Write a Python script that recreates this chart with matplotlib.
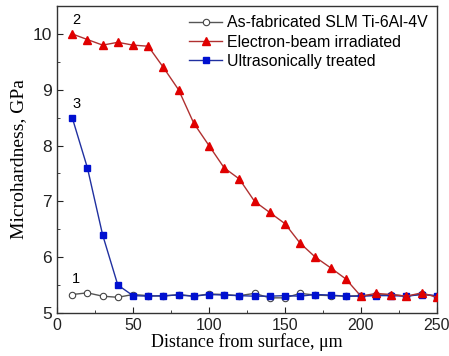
import matplotlib
matplotlib.use("Agg")
import matplotlib.pyplot as plt
from matplotlib.ticker import MultipleLocator

x_asfab = [10, 20, 30, 40, 50, 60, 70, 80, 90, 100, 110, 120, 130, 140, 150, 160, 170, 180, 190, 200, 210, 220, 230, 240, 250]
y_asfab = [5.33, 5.36, 5.30, 5.28, 5.33, 5.31, 5.30, 5.33, 5.30, 5.34, 5.33, 5.31, 5.35, 5.27, 5.27, 5.35, 5.32, 5.31, 5.30, 5.31, 5.32, 5.33, 5.30, 5.34, 5.30]

x_eb = [10, 20, 30, 40, 50, 60, 70, 80, 90, 100, 110, 120, 130, 140, 150, 160, 170, 180, 190, 200, 210, 220, 230, 240, 250]
y_eb = [10.0, 9.9, 9.8, 9.85, 9.8, 9.78, 9.4, 9.0, 8.4, 8.0, 7.6, 7.4, 7.0, 6.8, 6.6, 6.25, 6.0, 5.81, 5.61, 5.3, 5.35, 5.33, 5.30, 5.36, 5.28]

x_us = [10, 20, 30, 40, 50, 60, 70, 80, 90, 100, 110, 120, 130, 140, 150, 160, 170, 180, 190, 200, 210, 220, 230, 240, 250]
y_us = [8.5, 7.6, 6.4, 5.5, 5.31, 5.30, 5.31, 5.32, 5.30, 5.33, 5.32, 5.31, 5.30, 5.30, 5.31, 5.30, 5.33, 5.32, 5.30, 5.30, 5.31, 5.31, 5.30, 5.33, 5.31]

labels = ["As-fabricated SLM Ti-6Al-4V", "Electron-beam irradiated", "Ultrasonically treated"]
curve_ids = ["1", "2", "3"]

fig = plt.figure(figsize=(4.49, 3.56), dpi=100)
ax = fig.add_axes([0.127, 0.121, 0.846, 0.862])

ax.plot(x_asfab, y_asfab, color="#555555", lw=1.0, marker="o", ms=4.6,
        mfc="white", mec="#444444", mew=0.8, label=labels[0], zorder=2)
ax.plot(x_eb, y_eb, color="#b03030", lw=1.0, marker="^", ms=5.6,
        mfc="#e00000", mec="#e00000", label=labels[1], zorder=3)
ax.plot(x_us, y_us, color="#2030a0", lw=1.0, marker="s", ms=4.4,
        mfc="#0010d0", mec="#0010d0", label=labels[2], zorder=2.5)

ax.set_xlim(0, 250)
ax.set_ylim(5, 10.5)
ax.xaxis.set_major_locator(MultipleLocator(50))
ax.xaxis.set_minor_locator(MultipleLocator(25))
ax.yaxis.set_major_locator(MultipleLocator(1))
ax.yaxis.set_minor_locator(MultipleLocator(0.5))
ax.tick_params(which="both", direction="in", top=False, right=False,
               colors="#222222")
ax.tick_params(axis="x", labelsize=11.5)
ax.tick_params(axis="y", labelsize=12.5)
ax.tick_params(which="major", length=4)
ax.tick_params(which="minor", length=2.5)
for lab in ax.get_xticklabels() + ax.get_yticklabels():
    lab.set_fontfamily("Liberation Sans")
for s in ax.spines.values():
    s.set_color("#333333")
    s.set_linewidth(1.0)

ax.set_xlabel("Distance from surface, \u03bcm", family="Liberation Serif",
              fontsize=13, labelpad=0)
ax.set_ylabel("Microhardness, GPa", family="Liberation Serif",
              fontsize=14, labelpad=4)

ann_xy = [(10, 5.48), (10, 10.12), (10, 8.62)]
for t, (xx, yy) in zip(curve_ids, ann_xy):
    ax.text(xx, yy, t, family="Liberation Sans", fontsize=10.5, ha="left", va="bottom")

leg = fig.legend(loc="upper left", bbox_to_anchor=(0.421, 0.957),
                 frameon=False, borderpad=0, borderaxespad=0,
                 handlelength=2.1, handletextpad=0.3, labelspacing=0.27,
                 prop={"family": "Liberation Sans", "size": 11.4})

fig.savefig("out.png", dpi=100)
